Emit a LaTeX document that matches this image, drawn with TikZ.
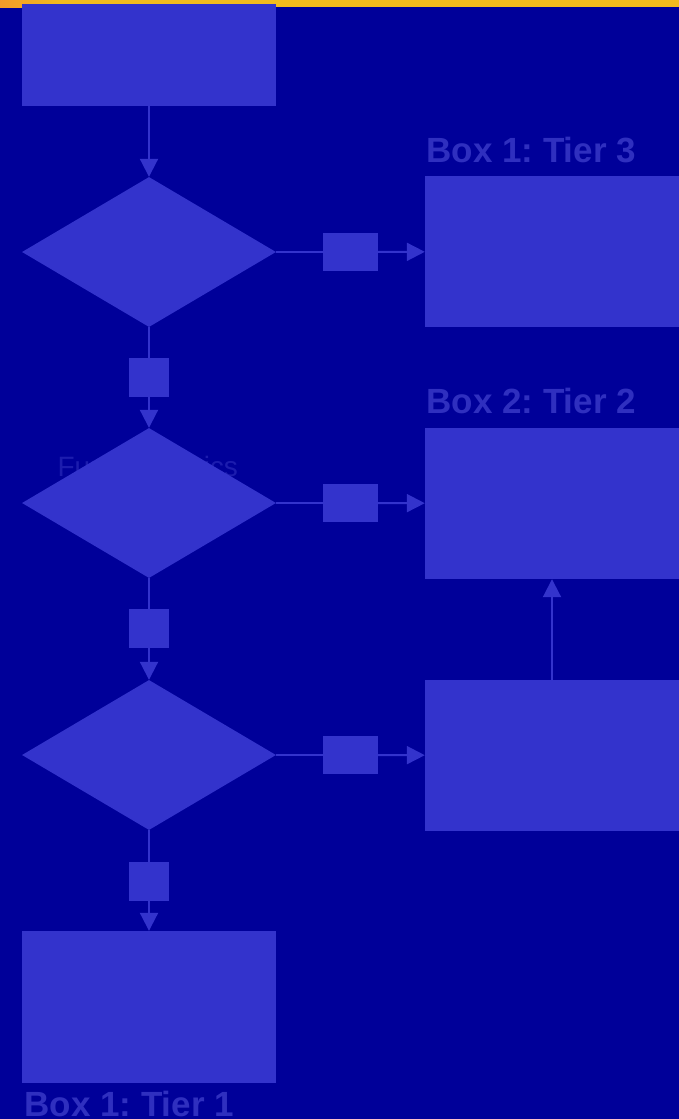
\documentclass[tikz,border=0pt]{standalone}
\usepackage{fontspec}
\setmainfont{Liberation Sans}
\usetikzlibrary{shapes.geometric, arrows.meta}
\definecolor{bgblue}{HTML}{000099}
\definecolor{boxblue}{HTML}{3333CC}
\definecolor{labelblue}{HTML}{2F2FBF}
\definecolor{faintblue}{HTML}{1C1CAE}
\definecolor{barorange}{HTML}{F39A2B}
\definecolor{baryellow}{HTML}{F2BB1E}
\frenchspacing
\begin{document}
\begin{tikzpicture}[x=1pt, y=-1pt,
        box/.style={rectangle, fill=boxblue, draw=none, inner sep=0pt},
        dia/.style={diamond, fill=boxblue, draw=none, inner sep=0pt, minimum width=254pt, minimum height=150pt},
        tag/.style={anchor=base west, text=labelblue, font=\fontsize{35}{35}\selectfont\bfseries},
        link/.style={draw=boxblue, line width=2pt},
        arr/.style={link, -{Triangle[length=18pt, width=18pt]}}]
        \useasboundingbox[fill=bgblue] (0,0) rectangle (679,1119);
        \fill[baryellow] (0,0) rectangle (679,7);
        \shade[left color=barorange, right color=baryellow] (0,0) rectangle (60,7);
        \node[anchor=base west, text=faintblue, font=\fontsize{28}{28}\selectfont] (faint) at (54,476) {Further Basics};
        \node[box, minimum width=254pt, minimum height=102pt] (top) at (149,55) {};
        \node[dia] (d1) at (149,252) {};
        \node[dia] (d2) at (149,503) {};
        \node[dia] (d3) at (149,755) {};
        \node[box, minimum width=254pt, minimum height=152pt] (bot) at (149,1007) {};
        \node[box, minimum width=40pt, minimum height=39pt] (s1) at (149,377.5) {};
        \node[box, minimum width=40pt, minimum height=39pt] (s2) at (149,628.5) {};
        \node[box, minimum width=40pt, minimum height=39pt] (s3) at (149,881.5) {};
        \node[box, minimum width=55pt, minimum height=38pt] (r1) at (350.5,252) {};
        \node[box, minimum width=55pt, minimum height=38pt] (r2) at (350.5,503) {};
        \node[box, minimum width=55pt, minimum height=38pt] (r3) at (350.5,755) {};
        \node[box, minimum width=254pt, minimum height=151pt] (t3) at (552,251.5) {};
        \node[box, minimum width=254pt, minimum height=151pt] (t2) at (552,503.5) {};
        \node[box, minimum width=254pt, minimum height=151pt] (b3) at (552,755.5) {};
        \node[tag] (l3) at (423,162) {Box 1: Tier 3};
        \node[tag] (l2) at (423,413) {Box 2: Tier 2};
        \node[tag] (l1) at (21,1116) {Box 1: Tier 1};
        \draw[arr] (top) -- (d1);
        \draw[link] (d1) -- (s1);
        \draw[arr] (s1) -- (d2);
        \draw[link] (d2) -- (s2);
        \draw[arr] (s2) -- (d3);
        \draw[link] (d3) -- (s3);
        \draw[arr] (s3) -- (bot);
        \draw[link] (d1) -- (r1);
        \draw[arr] (r1) -- (t3);
        \draw[link] (d2) -- (r2);
        \draw[arr] (r2) -- (t2);
        \draw[link] (d3) -- (r3);
        \draw[arr] (r3) -- (b3);
        \draw[arr] (b3) -- (t2);
    \end{tikzpicture}
\end{document}
